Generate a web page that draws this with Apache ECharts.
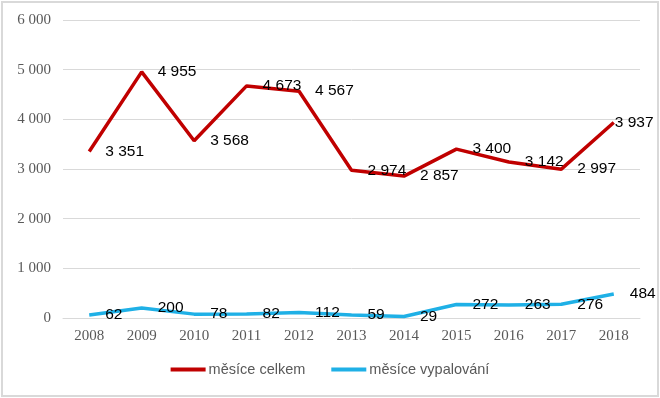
<!DOCTYPE html>
<html>
<head>
<meta charset="utf-8">
<script src="https://cdn.jsdelivr.net/npm/echarts@6/dist/echarts.min.js"></script>
<style>
  html, body { margin: 0; padding: 0; background: #fff; }
  #main { position: absolute; left: 1px; top: 1px; width: 654px; height: 392px; border: 2px solid #d9d9d9; }
</style>
</head>
<body>
<div id="main"></div>
<script>
// data
var years = ['2008', '2009', '2010', '2011', '2012', '2013', '2014', '2015', '2016', '2017', '2018'];
var mesiceCelkem = [3351, 4955, 3568, 4673, 4567, 2974, 2857, 3400, 3142, 2997, 3937];
var mesiceVypalovani = [62, 200, 78, 82, 112, 59, 29, 272, 263, 276, 484];

function fmt(v) {
    return String(v).replace(/\B(?=(\d{3})+(?!\d))/g, ' ');
}

// last red label sits right on the point (no room at the edge)
function redData() {
    return mesiceCelkem.map(function (v, i) {
        if (i === mesiceCelkem.length - 1) {
            return { value: v, label: { distance: 1 } };
        }
        return v;
    });
}

var myChart = echarts.init(document.getElementById('main'));

var labelStyle = {
    show: true,
    position: 'right',
    distance: 16,
    color: '#000',
    fontSize: 15.5,
    fontFamily: 'Liberation Sans',
    formatter: function (p) { return fmt(p.value); }
};

var option = {
    animation: false,
    grid: { left: 60, right: 17, top: 17, bottom: 77 },
    legend: {
        bottom: 13,
        left: 'center',
        itemWidth: 35,
        itemHeight: 4,
        itemGap: 26,
        icon: 'rect',
        textStyle: { color: '#595959', fontSize: 14.5, fontFamily: 'Liberation Sans', padding: [0, 0, 0, -2] },
        data: ['měsíce celkem', 'měsíce vypalování']
    },
    xAxis: {
        type: 'category',
        data: years,
        axisLine: { lineStyle: { color: '#d9d9d9' } },
        axisTick: { show: false },
        axisLabel: { color: '#595959', fontSize: 15, fontFamily: 'Liberation Serif', margin: 11 }
    },
    yAxis: {
        type: 'value',
        min: 0,
        max: 6000,
        interval: 1000,
        axisLine: { show: false },
        axisTick: { show: false },
        splitLine: { lineStyle: { color: '#d9d9d9' } },
        axisLabel: {
            color: '#595959', fontSize: 15, fontFamily: 'Liberation Serif', margin: 12,
            formatter: function (v) { return fmt(v); }
        }
    },
    series: [
        {
            name: 'měsíce celkem',
            type: 'line',
            data: redData(),
            symbol: 'circle',
            symbolSize: 0,
            showSymbol: true,
            itemStyle: { color: '#c00000' },
            lineStyle: { color: '#c00000', width: 3.5 },
            label: labelStyle
        },
        {
            name: 'měsíce vypalování',
            type: 'line',
            data: mesiceVypalovani,
            symbol: 'circle',
            symbolSize: 0,
            showSymbol: true,
            itemStyle: { color: '#1fb0e6' },
            lineStyle: { color: '#1fb0e6', width: 3.5 },
            label: labelStyle
        }
    ]
};

myChart.setOption(option);
</script>
</body>
</html>
